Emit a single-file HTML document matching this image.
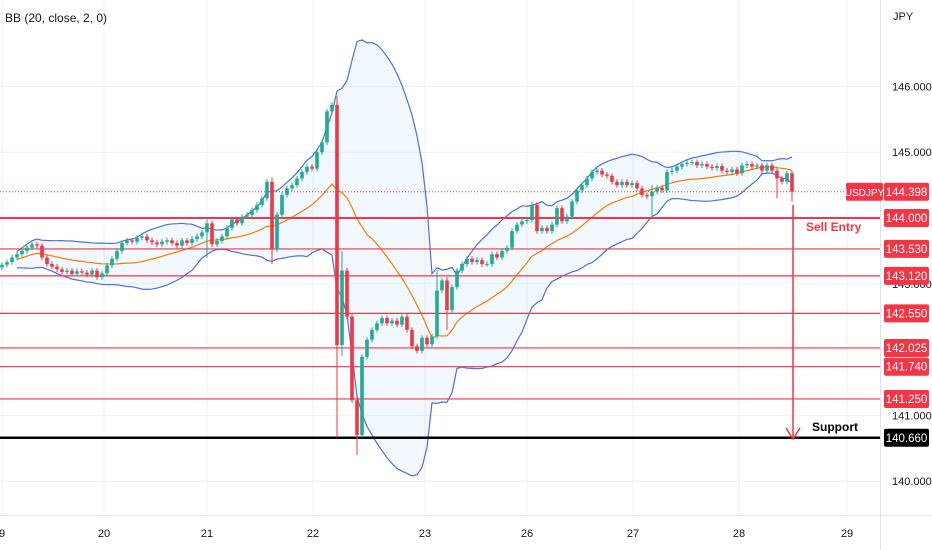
<!DOCTYPE html>
<html><head><meta charset="utf-8">
<style>
body{margin:0;background:#fff;font-family:"Liberation Sans",sans-serif;}
svg{display:block}
</style></head>
<body>
<svg id="chart" width="932" height="550" viewBox="0 0 932 550" xmlns="http://www.w3.org/2000/svg"></svg>
<script>
// ---- data ----
const closes=[143.29,143.33,143.40,143.45,143.50,143.55,143.60,143.58,143.40,143.30,
143.26,143.22,143.18,143.20,143.15,143.19,143.17,143.14,143.20,143.10,
143.16,143.28,143.38,143.50,143.62,143.66,143.64,143.70,143.72,143.66,
143.63,143.60,143.64,143.66,143.62,143.58,143.66,143.62,143.68,143.72,
143.78,143.92,143.60,143.65,143.72,143.85,143.98,143.92,144.02,144.05,
144.12,144.20,144.30,144.55,143.52,144.05,144.35,144.45,144.50,144.60,
144.70,144.78,144.75,145.00,145.15,145.62,145.72,142.07,143.20,142.50,
141.23,140.70,141.89,142.15,142.30,142.40,142.48,142.40,142.44,142.38,
142.50,142.30,142.05,141.98,142.18,142.08,142.20,142.90,143.05,142.60,
142.95,143.20,143.30,143.38,143.33,143.36,143.30,143.30,143.45,143.40,
143.50,143.55,143.80,143.90,143.95,143.97,144.20,143.80,143.85,143.80,
143.90,144.15,143.95,144.02,144.25,144.42,144.50,144.60,144.70,144.72,
144.66,144.64,144.55,144.50,144.55,144.50,144.53,144.45,144.35,144.33,
144.40,144.46,144.42,144.70,144.72,144.78,144.82,144.84,144.85,144.80,
144.82,144.78,144.76,144.79,144.72,144.70,144.74,144.68,144.80,144.82,
144.78,144.80,144.72,144.80,144.72,144.60,144.55,144.68,144.40];
const firstOpen=143.25;
const wickOverrides=[[41,144.0,143.4],[54,144.62,143.3],[67,145.85,140.66],[68,143.5,141.9],[71,141.3,140.40],[87,143.2,142.7],[89,143.1,142.3],[130,144.5,144.0],[155,144.7,144.3],[158,144.6,144.25]];
const levels=[144.000,143.530,143.120,142.550,142.025,141.740,141.250];
const supportLevel=140.660;
const axisTicks=[146,145,143,141,140];
const dayLabels=["9","20","21","22","23","26","27","28","29"];
const dayIndex=[0,20.4,41,62.2,84.6,105,126.2,147.4,169];
const lastPrice=144.398;

// ---- scales ----
const X=i=>2+i*5;
const Y=p=>218-(p-144)*65.8;
const svg=document.getElementById('chart');
const NS='http://www.w3.org/2000/svg';
function mk(tag,attrs,parent){const e=document.createElementNS(NS,tag);for(const k in attrs)e.setAttribute(k,attrs[k]);(parent||svg).appendChild(e);return e;}

// grid
const grid=mk('g',{});


axisTicks.concat([144,142]).forEach(p=>mk('line',{x1:0,x2:880,y1:Y(p),y2:Y(p),stroke:'#eef0f4','stroke-width':1},grid));
dayIndex.forEach(i=>mk('line',{x1:X(i),x2:X(i),y1:0,y2:515,stroke:'#eef0f4','stroke-width':1},grid));
mk('line',{x1:880.5,x2:880.5,y1:0,y2:550,stroke:'#e0e3eb'});
mk('line',{x1:0,x2:932,y1:515.5,y2:515.5,stroke:'#e0e3eb'});

// bollinger
const mid=[],up=[],lo=[];
closes.forEach((c,i)=>{const s=Math.max(0,i-19);const w=closes.slice(s,i+1);const m=w.reduce((a,b)=>a+b,0)/w.length;const sd=Math.sqrt(w.reduce((a,b)=>a+(b-m)*(b-m),0)/w.length);mid.push(m);up.push(m+2*sd);lo.push(m-2*sd);});
const st=3;
const ptsU=up.map((v,i)=>[X(i),Y(v)]).slice(st), ptsL=lo.map((v,i)=>[X(i),Y(v)]).slice(st);
const fill=mk('path',{d:'M'+ptsU.map(p=>p.join(',')).join('L')+'L'+ptsL.slice().reverse().map(p=>p.join(',')).join('L')+'Z',fill:'rgba(33,150,243,0.06)'});


const bu=mk('polyline',{points:ptsU.map(p=>p.join(',')).join(' '),fill:'none',stroke:'#4d6fe0','stroke-width':1.2});


const bl=mk('polyline',{points:ptsL.map(p=>p.join(',')).join(' '),fill:'none',stroke:'#4d6fe0','stroke-width':1.2});


const bm=mk('polyline',{points:mid.map((v,i)=>[X(i),Y(v)].join(',')).slice(st).join(' '),fill:'none',stroke:'#f57c00','stroke-width':1.2});



// levels
levels.forEach((p,k)=>{const l=mk('line',{x1:0,x2:880,y1:Y(p),y2:Y(p),stroke:'#f23645','stroke-width':k==0?2:1.2});

});
const sl=mk('line',{x1:0,x2:880,y1:Y(supportLevel),y2:Y(supportLevel),stroke:'#000','stroke-width':2.5});


const pl=mk('line',{x1:0,x2:880,y1:Y(lastPrice),y2:Y(lastPrice),stroke:'#f23645','stroke-width':1,'stroke-dasharray':'1,2'});



// candles
const cg=mk('g',{});


closes.forEach((c,i)=>{const o=i?closes[i-1]:firstOpen;let h=Math.max(o,c)+0.04,l=Math.min(o,c)-0.04;
wickOverrides.forEach(w=>{if(w[0]===i){h=Math.max(h,w[1]);l=Math.min(l,w[2]);}});
const col=c>=o?'#22ab94':'#f23645';
const g=mk('g',{},cg);


mk('line',{x1:X(i),x2:X(i),y1:Y(h),y2:Y(l),stroke:col,'stroke-width':1},g);
const t=Y(Math.max(o,c)),b=Y(Math.min(o,c));
mk('rect',{x:X(i)-1.8,y:t,width:3.6,height:Math.max(1,b-t),fill:col},g);});

// arrow
const ar=mk('g',{});


mk('line',{x1:793,x2:793,y1:205,y2:437,stroke:'#f23645','stroke-width':1.5},ar);
mk('polyline',{points:'786,428 793,439 800,428',fill:'none',stroke:'#f23645','stroke-width':1.5},ar);
function txt(s,x,y,attrs,name,inter){const t=mk('text',Object.assign({x:x,y:y,'font-size':12,fill:'#131722'},attrs));t.textContent=s;

return t;}
txt('Sell Entry',806,231,{fill:'#f23645','font-size':12,'font-weight':'bold'},'sell-entry-label',false);
txt('Support',812,431,{fill:'#000','font-weight':'bold'},'support-label',false);
txt('BB (20, close, 2, 0)',5,22,{'font-size':12},'indicator-legend',true);
txt('JPY',893,20,{'font-size':11},'currency-label',false);

// axis labels
axisTicks.forEach(p=>txt(p.toFixed(3),892,Y(p)+4,{'font-size':11},'y-tick-label',false));
levels.forEach(p=>{const g=mk('g',{});


mk('rect',{x:884,y:Y(p)-9,width:45,height:18,rx:2,fill:'#f23645'},g);
const t=mk('text',{x:906.5,y:Y(p)+4,'font-size':11.5,fill:'#fff','text-anchor':'middle'},g);t.textContent=p.toFixed(3);});
{const g=mk('g',{});


mk('rect',{x:884,y:Y(supportLevel)-9,width:45,height:18,rx:2,fill:'#000'},g);
const t=mk('text',{x:906.5,y:Y(supportLevel)+4,'font-size':11.5,fill:'#fff','text-anchor':'middle'},g);t.textContent=supportLevel.toFixed(3);}
{const g=mk('g',{});


mk('rect',{x:846,y:Y(lastPrice)-9,width:37,height:18,rx:2,fill:'#f23645'},g);
mk('rect',{x:884,y:Y(lastPrice)-9,width:45,height:18,rx:2,fill:'#f23645'},g);
const t1=mk('text',{x:864.5,y:Y(lastPrice)+4,'font-size':10,fill:'#fff','text-anchor':'middle'},g);t1.textContent='USDJPY';
const t2=mk('text',{x:906.5,y:Y(lastPrice)+4,'font-size':11.5,fill:'#fff','text-anchor':'middle'},g);t2.textContent=lastPrice.toFixed(3);}
dayLabels.forEach((d,k)=>txt(d,X(dayIndex[k]),537,{'font-size':11,'text-anchor':'middle'},'x-tick-label',false));
</script>
</body></html>
